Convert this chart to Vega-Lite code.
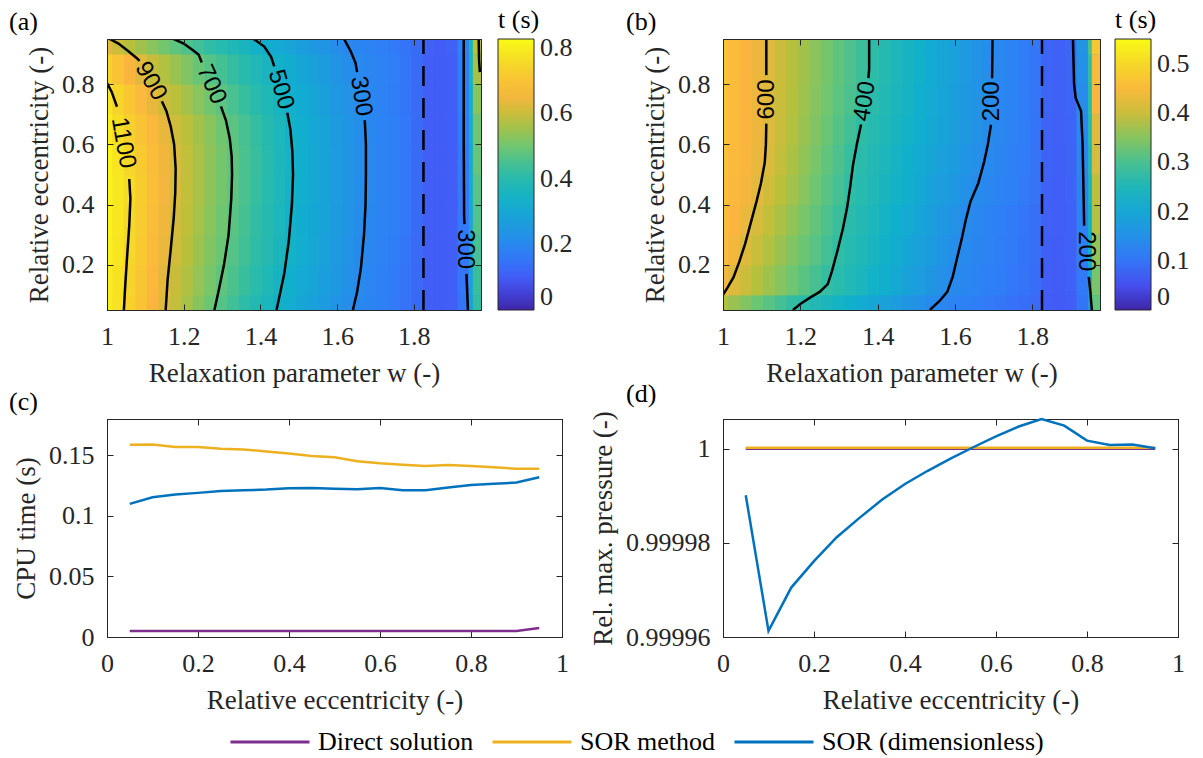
{
"$schema": "https://vega.github.io/schema/vega-lite/v6.json",
"padding": {"left": 8, "top": 6, "right": 8, "bottom": 8},
"background": "white",
"datasets": {
"heat": [
{"p":"a","e":0.05,"w":1,"t":0.8},{"p":"a","e":0.05,"w":1.03,"t":0.773},{"p":"a","e":0.05,"w":1.06,"t":0.739},{"p":"a","e":0.05,"w":1.09,"t":0.701},{"p":"a","e":0.05,"w":1.12,"t":0.662},{"p":"a","e":0.05,"w":1.15,"t":0.624},{"p":"a","e":0.05,"w":1.18,"t":0.591},{"p":"a","e":0.05,"w":1.21,"t":0.558},{"p":"a","e":0.05,"w":1.24,"t":0.526},{"p":"a","e":0.05,"w":1.27,"t":0.494},{"p":"a","e":0.05,"w":1.3,"t":0.466},{"p":"a","e":0.05,"w":1.33,"t":0.44},{"p":"a","e":0.05,"w":1.36,"t":0.415},{"p":"a","e":0.05,"w":1.39,"t":0.389},{"p":"a","e":0.05,"w":1.42,"t":0.364},{"p":"a","e":0.05,"w":1.45,"t":0.339},{"p":"a","e":0.05,"w":1.48,"t":0.319},{"p":"a","e":0.05,"w":1.51,"t":0.298},{"p":"a","e":0.05,"w":1.54,"t":0.277},{"p":"a","e":0.05,"w":1.57,"t":0.256},{"p":"a","e":0.05,"w":1.6,"t":0.235},{"p":"a","e":0.05,"w":1.63,"t":0.215},{"p":"a","e":0.05,"w":1.66,"t":0.2},{"p":"a","e":0.05,"w":1.69,"t":0.19},{"p":"a","e":0.05,"w":1.72,"t":0.175},{"p":"a","e":0.05,"w":1.75,"t":0.16},{"p":"a","e":0.05,"w":1.78,"t":0.145},{"p":"a","e":0.05,"w":1.81,"t":0.125},{"p":"a","e":0.05,"w":1.84,"t":0.105},{"p":"a","e":0.05,"w":1.87,"t":0.1},{"p":"a","e":0.05,"w":1.9,"t":0.105},{"p":"a","e":0.05,"w":1.93,"t":0.15},{"p":"a","e":0.05,"w":1.96,"t":0.28},{"p":"a","e":0.05,"w":1.97,"t":0.42},
{"p":"a","e":0.15,"w":1,"t":0.8},{"p":"a","e":0.15,"w":1.03,"t":0.775},{"p":"a","e":0.15,"w":1.06,"t":0.745},{"p":"a","e":0.15,"w":1.09,"t":0.707},{"p":"a","e":0.15,"w":1.12,"t":0.669},{"p":"a","e":0.15,"w":1.15,"t":0.63},{"p":"a","e":0.15,"w":1.18,"t":0.598},{"p":"a","e":0.15,"w":1.21,"t":0.569},{"p":"a","e":0.15,"w":1.24,"t":0.54},{"p":"a","e":0.15,"w":1.27,"t":0.51},{"p":"a","e":0.15,"w":1.3,"t":0.481},{"p":"a","e":0.15,"w":1.33,"t":0.456},{"p":"a","e":0.15,"w":1.36,"t":0.43},{"p":"a","e":0.15,"w":1.39,"t":0.404},{"p":"a","e":0.15,"w":1.42,"t":0.378},{"p":"a","e":0.15,"w":1.45,"t":0.353},{"p":"a","e":0.15,"w":1.48,"t":0.33},{"p":"a","e":0.15,"w":1.51,"t":0.309},{"p":"a","e":0.15,"w":1.54,"t":0.289},{"p":"a","e":0.15,"w":1.57,"t":0.268},{"p":"a","e":0.15,"w":1.6,"t":0.247},{"p":"a","e":0.15,"w":1.63,"t":0.226},{"p":"a","e":0.15,"w":1.66,"t":0.205},{"p":"a","e":0.15,"w":1.69,"t":0.192},{"p":"a","e":0.15,"w":1.72,"t":0.177},{"p":"a","e":0.15,"w":1.75,"t":0.162},{"p":"a","e":0.15,"w":1.78,"t":0.147},{"p":"a","e":0.15,"w":1.81,"t":0.127},{"p":"a","e":0.15,"w":1.84,"t":0.105},{"p":"a","e":0.15,"w":1.87,"t":0.1},{"p":"a","e":0.15,"w":1.9,"t":0.105},{"p":"a","e":0.15,"w":1.93,"t":0.152},{"p":"a","e":0.15,"w":1.96,"t":0.285},{"p":"a","e":0.15,"w":1.97,"t":0.43},
{"p":"a","e":0.25,"w":1,"t":0.805},{"p":"a","e":0.25,"w":1.03,"t":0.78},{"p":"a","e":0.25,"w":1.06,"t":0.753},{"p":"a","e":0.25,"w":1.09,"t":0.715},{"p":"a","e":0.25,"w":1.12,"t":0.678},{"p":"a","e":0.25,"w":1.15,"t":0.64},{"p":"a","e":0.25,"w":1.18,"t":0.607},{"p":"a","e":0.25,"w":1.21,"t":0.578},{"p":"a","e":0.25,"w":1.24,"t":0.55},{"p":"a","e":0.25,"w":1.27,"t":0.521},{"p":"a","e":0.25,"w":1.3,"t":0.493},{"p":"a","e":0.25,"w":1.33,"t":0.466},{"p":"a","e":0.25,"w":1.36,"t":0.441},{"p":"a","e":0.25,"w":1.39,"t":0.417},{"p":"a","e":0.25,"w":1.42,"t":0.392},{"p":"a","e":0.25,"w":1.45,"t":0.367},{"p":"a","e":0.25,"w":1.48,"t":0.342},{"p":"a","e":0.25,"w":1.51,"t":0.32},{"p":"a","e":0.25,"w":1.54,"t":0.299},{"p":"a","e":0.25,"w":1.57,"t":0.277},{"p":"a","e":0.25,"w":1.6,"t":0.255},{"p":"a","e":0.25,"w":1.63,"t":0.234},{"p":"a","e":0.25,"w":1.66,"t":0.212},{"p":"a","e":0.25,"w":1.69,"t":0.196},{"p":"a","e":0.25,"w":1.72,"t":0.181},{"p":"a","e":0.25,"w":1.75,"t":0.166},{"p":"a","e":0.25,"w":1.78,"t":0.151},{"p":"a","e":0.25,"w":1.81,"t":0.128},{"p":"a","e":0.25,"w":1.84,"t":0.105},{"p":"a","e":0.25,"w":1.87,"t":0.1},{"p":"a","e":0.25,"w":1.9,"t":0.105},{"p":"a","e":0.25,"w":1.93,"t":0.155},{"p":"a","e":0.25,"w":1.96,"t":0.29},{"p":"a","e":0.25,"w":1.97,"t":0.45},
{"p":"a","e":0.35,"w":1,"t":0.81},{"p":"a","e":0.35,"w":1.03,"t":0.783},{"p":"a","e":0.35,"w":1.06,"t":0.754},{"p":"a","e":0.35,"w":1.09,"t":0.719},{"p":"a","e":0.35,"w":1.12,"t":0.684},{"p":"a","e":0.35,"w":1.15,"t":0.648},{"p":"a","e":0.35,"w":1.18,"t":0.614},{"p":"a","e":0.35,"w":1.21,"t":0.586},{"p":"a","e":0.35,"w":1.24,"t":0.557},{"p":"a","e":0.35,"w":1.27,"t":0.528},{"p":"a","e":0.35,"w":1.3,"t":0.499},{"p":"a","e":0.35,"w":1.33,"t":0.472},{"p":"a","e":0.35,"w":1.36,"t":0.446},{"p":"a","e":0.35,"w":1.39,"t":0.42},{"p":"a","e":0.35,"w":1.42,"t":0.395},{"p":"a","e":0.35,"w":1.45,"t":0.369},{"p":"a","e":0.35,"w":1.48,"t":0.344},{"p":"a","e":0.35,"w":1.51,"t":0.322},{"p":"a","e":0.35,"w":1.54,"t":0.301},{"p":"a","e":0.35,"w":1.57,"t":0.28},{"p":"a","e":0.35,"w":1.6,"t":0.258},{"p":"a","e":0.35,"w":1.63,"t":0.237},{"p":"a","e":0.35,"w":1.66,"t":0.215},{"p":"a","e":0.35,"w":1.69,"t":0.2},{"p":"a","e":0.35,"w":1.72,"t":0.185},{"p":"a","e":0.35,"w":1.75,"t":0.17},{"p":"a","e":0.35,"w":1.78,"t":0.155},{"p":"a","e":0.35,"w":1.81,"t":0.13},{"p":"a","e":0.35,"w":1.84,"t":0.105},{"p":"a","e":0.35,"w":1.87,"t":0.1},{"p":"a","e":0.35,"w":1.9,"t":0.105},{"p":"a","e":0.35,"w":1.93,"t":0.16},{"p":"a","e":0.35,"w":1.96,"t":0.3},{"p":"a","e":0.35,"w":1.97,"t":0.46},
{"p":"a","e":0.45,"w":1,"t":0.81},{"p":"a","e":0.45,"w":1.03,"t":0.785},{"p":"a","e":0.45,"w":1.06,"t":0.76},{"p":"a","e":0.45,"w":1.09,"t":0.724},{"p":"a","e":0.45,"w":1.12,"t":0.689},{"p":"a","e":0.45,"w":1.15,"t":0.653},{"p":"a","e":0.45,"w":1.18,"t":0.618},{"p":"a","e":0.45,"w":1.21,"t":0.59},{"p":"a","e":0.45,"w":1.24,"t":0.562},{"p":"a","e":0.45,"w":1.27,"t":0.534},{"p":"a","e":0.45,"w":1.3,"t":0.506},{"p":"a","e":0.45,"w":1.33,"t":0.478},{"p":"a","e":0.45,"w":1.36,"t":0.452},{"p":"a","e":0.45,"w":1.39,"t":0.426},{"p":"a","e":0.45,"w":1.42,"t":0.4},{"p":"a","e":0.45,"w":1.45,"t":0.374},{"p":"a","e":0.45,"w":1.48,"t":0.347},{"p":"a","e":0.45,"w":1.51,"t":0.325},{"p":"a","e":0.45,"w":1.54,"t":0.304},{"p":"a","e":0.45,"w":1.57,"t":0.282},{"p":"a","e":0.45,"w":1.6,"t":0.261},{"p":"a","e":0.45,"w":1.63,"t":0.239},{"p":"a","e":0.45,"w":1.66,"t":0.217},{"p":"a","e":0.45,"w":1.69,"t":0.201},{"p":"a","e":0.45,"w":1.72,"t":0.186},{"p":"a","e":0.45,"w":1.75,"t":0.171},{"p":"a","e":0.45,"w":1.78,"t":0.156},{"p":"a","e":0.45,"w":1.81,"t":0.13},{"p":"a","e":0.45,"w":1.84,"t":0.105},{"p":"a","e":0.45,"w":1.87,"t":0.1},{"p":"a","e":0.45,"w":1.9,"t":0.105},{"p":"a","e":0.45,"w":1.93,"t":0.16},{"p":"a","e":0.45,"w":1.96,"t":0.31},{"p":"a","e":0.45,"w":1.97,"t":0.47},
{"p":"a","e":0.55,"w":1,"t":0.81},{"p":"a","e":0.55,"w":1.03,"t":0.78},{"p":"a","e":0.55,"w":1.06,"t":0.749},{"p":"a","e":0.55,"w":1.09,"t":0.716},{"p":"a","e":0.55,"w":1.12,"t":0.683},{"p":"a","e":0.55,"w":1.15,"t":0.651},{"p":"a","e":0.55,"w":1.18,"t":0.618},{"p":"a","e":0.55,"w":1.21,"t":0.59},{"p":"a","e":0.55,"w":1.24,"t":0.562},{"p":"a","e":0.55,"w":1.27,"t":0.534},{"p":"a","e":0.55,"w":1.3,"t":0.506},{"p":"a","e":0.55,"w":1.33,"t":0.479},{"p":"a","e":0.55,"w":1.36,"t":0.453},{"p":"a","e":0.55,"w":1.39,"t":0.427},{"p":"a","e":0.55,"w":1.42,"t":0.401},{"p":"a","e":0.55,"w":1.45,"t":0.375},{"p":"a","e":0.55,"w":1.48,"t":0.348},{"p":"a","e":0.55,"w":1.51,"t":0.326},{"p":"a","e":0.55,"w":1.54,"t":0.304},{"p":"a","e":0.55,"w":1.57,"t":0.283},{"p":"a","e":0.55,"w":1.6,"t":0.261},{"p":"a","e":0.55,"w":1.63,"t":0.24},{"p":"a","e":0.55,"w":1.66,"t":0.218},{"p":"a","e":0.55,"w":1.69,"t":0.201},{"p":"a","e":0.55,"w":1.72,"t":0.186},{"p":"a","e":0.55,"w":1.75,"t":0.171},{"p":"a","e":0.55,"w":1.78,"t":0.156},{"p":"a","e":0.55,"w":1.81,"t":0.13},{"p":"a","e":0.55,"w":1.84,"t":0.105},{"p":"a","e":0.55,"w":1.87,"t":0.1},{"p":"a","e":0.55,"w":1.9,"t":0.105},{"p":"a","e":0.55,"w":1.93,"t":0.162},{"p":"a","e":0.55,"w":1.96,"t":0.315},{"p":"a","e":0.55,"w":1.97,"t":0.49},
{"p":"a","e":0.65,"w":1,"t":0.8},{"p":"a","e":0.65,"w":1.03,"t":0.766},{"p":"a","e":0.65,"w":1.06,"t":0.733},{"p":"a","e":0.65,"w":1.09,"t":0.702},{"p":"a","e":0.65,"w":1.12,"t":0.67},{"p":"a","e":0.65,"w":1.15,"t":0.638},{"p":"a","e":0.65,"w":1.18,"t":0.608},{"p":"a","e":0.65,"w":1.21,"t":0.582},{"p":"a","e":0.65,"w":1.24,"t":0.555},{"p":"a","e":0.65,"w":1.27,"t":0.528},{"p":"a","e":0.65,"w":1.3,"t":0.501},{"p":"a","e":0.65,"w":1.33,"t":0.474},{"p":"a","e":0.65,"w":1.36,"t":0.448},{"p":"a","e":0.65,"w":1.39,"t":0.422},{"p":"a","e":0.65,"w":1.42,"t":0.396},{"p":"a","e":0.65,"w":1.45,"t":0.37},{"p":"a","e":0.65,"w":1.48,"t":0.344},{"p":"a","e":0.65,"w":1.51,"t":0.323},{"p":"a","e":0.65,"w":1.54,"t":0.302},{"p":"a","e":0.65,"w":1.57,"t":0.281},{"p":"a","e":0.65,"w":1.6,"t":0.259},{"p":"a","e":0.65,"w":1.63,"t":0.238},{"p":"a","e":0.65,"w":1.66,"t":0.217},{"p":"a","e":0.65,"w":1.69,"t":0.2},{"p":"a","e":0.65,"w":1.72,"t":0.185},{"p":"a","e":0.65,"w":1.75,"t":0.17},{"p":"a","e":0.65,"w":1.78,"t":0.155},{"p":"a","e":0.65,"w":1.81,"t":0.13},{"p":"a","e":0.65,"w":1.84,"t":0.105},{"p":"a","e":0.65,"w":1.87,"t":0.1},{"p":"a","e":0.65,"w":1.9,"t":0.105},{"p":"a","e":0.65,"w":1.93,"t":0.165},{"p":"a","e":0.65,"w":1.96,"t":0.32},{"p":"a","e":0.65,"w":1.97,"t":0.5},
{"p":"a","e":0.75,"w":1,"t":0.78},{"p":"a","e":0.75,"w":1.03,"t":0.746},{"p":"a","e":0.75,"w":1.06,"t":0.71},{"p":"a","e":0.75,"w":1.09,"t":0.674},{"p":"a","e":0.75,"w":1.12,"t":0.638},{"p":"a","e":0.75,"w":1.15,"t":0.607},{"p":"a","e":0.75,"w":1.18,"t":0.58},{"p":"a","e":0.75,"w":1.21,"t":0.554},{"p":"a","e":0.75,"w":1.24,"t":0.527},{"p":"a","e":0.75,"w":1.27,"t":0.501},{"p":"a","e":0.75,"w":1.3,"t":0.475},{"p":"a","e":0.75,"w":1.33,"t":0.451},{"p":"a","e":0.75,"w":1.36,"t":0.427},{"p":"a","e":0.75,"w":1.39,"t":0.403},{"p":"a","e":0.75,"w":1.42,"t":0.379},{"p":"a","e":0.75,"w":1.45,"t":0.355},{"p":"a","e":0.75,"w":1.48,"t":0.333},{"p":"a","e":0.75,"w":1.51,"t":0.313},{"p":"a","e":0.75,"w":1.54,"t":0.292},{"p":"a","e":0.75,"w":1.57,"t":0.272},{"p":"a","e":0.75,"w":1.6,"t":0.251},{"p":"a","e":0.75,"w":1.63,"t":0.23},{"p":"a","e":0.75,"w":1.66,"t":0.21},{"p":"a","e":0.75,"w":1.69,"t":0.196},{"p":"a","e":0.75,"w":1.72,"t":0.182},{"p":"a","e":0.75,"w":1.75,"t":0.168},{"p":"a","e":0.75,"w":1.78,"t":0.154},{"p":"a","e":0.75,"w":1.81,"t":0.13},{"p":"a","e":0.75,"w":1.84,"t":0.105},{"p":"a","e":0.75,"w":1.87,"t":0.1},{"p":"a","e":0.75,"w":1.9,"t":0.105},{"p":"a","e":0.75,"w":1.93,"t":0.17},{"p":"a","e":0.75,"w":1.96,"t":0.335},{"p":"a","e":0.75,"w":1.97,"t":0.53},
{"p":"a","e":0.85,"w":1,"t":0.735},{"p":"a","e":0.85,"w":1.03,"t":0.699},{"p":"a","e":0.85,"w":1.06,"t":0.662},{"p":"a","e":0.85,"w":1.09,"t":0.626},{"p":"a","e":0.85,"w":1.12,"t":0.598},{"p":"a","e":0.85,"w":1.15,"t":0.571},{"p":"a","e":0.85,"w":1.18,"t":0.545},{"p":"a","e":0.85,"w":1.21,"t":0.518},{"p":"a","e":0.85,"w":1.24,"t":0.492},{"p":"a","e":0.85,"w":1.27,"t":0.468},{"p":"a","e":0.85,"w":1.3,"t":0.446},{"p":"a","e":0.85,"w":1.33,"t":0.424},{"p":"a","e":0.85,"w":1.36,"t":0.402},{"p":"a","e":0.85,"w":1.39,"t":0.38},{"p":"a","e":0.85,"w":1.42,"t":0.358},{"p":"a","e":0.85,"w":1.45,"t":0.337},{"p":"a","e":0.85,"w":1.48,"t":0.318},{"p":"a","e":0.85,"w":1.51,"t":0.298},{"p":"a","e":0.85,"w":1.54,"t":0.278},{"p":"a","e":0.85,"w":1.57,"t":0.259},{"p":"a","e":0.85,"w":1.6,"t":0.239},{"p":"a","e":0.85,"w":1.63,"t":0.219},{"p":"a","e":0.85,"w":1.66,"t":0.202},{"p":"a","e":0.85,"w":1.69,"t":0.192},{"p":"a","e":0.85,"w":1.72,"t":0.18},{"p":"a","e":0.85,"w":1.75,"t":0.167},{"p":"a","e":0.85,"w":1.78,"t":0.153},{"p":"a","e":0.85,"w":1.81,"t":0.13},{"p":"a","e":0.85,"w":1.84,"t":0.105},{"p":"a","e":0.85,"w":1.87,"t":0.1},{"p":"a","e":0.85,"w":1.9,"t":0.105},{"p":"a","e":0.85,"w":1.93,"t":0.175},{"p":"a","e":0.85,"w":1.96,"t":0.35},{"p":"a","e":0.85,"w":1.97,"t":0.56},
{"p":"a","e":0.95,"w":1,"t":0.63},{"p":"a","e":0.95,"w":1.03,"t":0.601},{"p":"a","e":0.95,"w":1.06,"t":0.577},{"p":"a","e":0.95,"w":1.09,"t":0.552},{"p":"a","e":0.95,"w":1.12,"t":0.527},{"p":"a","e":0.95,"w":1.15,"t":0.503},{"p":"a","e":0.95,"w":1.18,"t":0.479},{"p":"a","e":0.95,"w":1.21,"t":0.459},{"p":"a","e":0.95,"w":1.24,"t":0.439},{"p":"a","e":0.95,"w":1.27,"t":0.419},{"p":"a","e":0.95,"w":1.3,"t":0.399},{"p":"a","e":0.95,"w":1.33,"t":0.379},{"p":"a","e":0.95,"w":1.36,"t":0.36},{"p":"a","e":0.95,"w":1.39,"t":0.34},{"p":"a","e":0.95,"w":1.42,"t":0.323},{"p":"a","e":0.95,"w":1.45,"t":0.305},{"p":"a","e":0.95,"w":1.48,"t":0.288},{"p":"a","e":0.95,"w":1.51,"t":0.27},{"p":"a","e":0.95,"w":1.54,"t":0.253},{"p":"a","e":0.95,"w":1.57,"t":0.235},{"p":"a","e":0.95,"w":1.6,"t":0.218},{"p":"a","e":0.95,"w":1.63,"t":0.2},{"p":"a","e":0.95,"w":1.66,"t":0.19},{"p":"a","e":0.95,"w":1.69,"t":0.18},{"p":"a","e":0.95,"w":1.72,"t":0.17},{"p":"a","e":0.95,"w":1.75,"t":0.16},{"p":"a","e":0.95,"w":1.78,"t":0.15},{"p":"a","e":0.95,"w":1.81,"t":0.13},{"p":"a","e":0.95,"w":1.84,"t":0.108},{"p":"a","e":0.95,"w":1.87,"t":0.102},{"p":"a","e":0.95,"w":1.9,"t":0.11},{"p":"a","e":0.95,"w":1.93,"t":0.18},{"p":"a","e":0.95,"w":1.96,"t":0.36},{"p":"a","e":0.95,"w":1.97,"t":0.58},
{"p":"b","e":0.05,"w":1,"t":0.38},{"p":"b","e":0.05,"w":1.03,"t":0.363},{"p":"b","e":0.05,"w":1.06,"t":0.347},{"p":"b","e":0.05,"w":1.09,"t":0.33},{"p":"b","e":0.05,"w":1.12,"t":0.314},{"p":"b","e":0.05,"w":1.15,"t":0.297},{"p":"b","e":0.05,"w":1.18,"t":0.281},{"p":"b","e":0.05,"w":1.21,"t":0.269},{"p":"b","e":0.05,"w":1.24,"t":0.257},{"p":"b","e":0.05,"w":1.27,"t":0.245},{"p":"b","e":0.05,"w":1.3,"t":0.233},{"p":"b","e":0.05,"w":1.33,"t":0.221},{"p":"b","e":0.05,"w":1.36,"t":0.209},{"p":"b","e":0.05,"w":1.39,"t":0.197},{"p":"b","e":0.05,"w":1.42,"t":0.185},{"p":"b","e":0.05,"w":1.45,"t":0.174},{"p":"b","e":0.05,"w":1.48,"t":0.162},{"p":"b","e":0.05,"w":1.51,"t":0.15},{"p":"b","e":0.05,"w":1.54,"t":0.138},{"p":"b","e":0.05,"w":1.57,"t":0.13},{"p":"b","e":0.05,"w":1.6,"t":0.123},{"p":"b","e":0.05,"w":1.63,"t":0.117},{"p":"b","e":0.05,"w":1.66,"t":0.111},{"p":"b","e":0.05,"w":1.69,"t":0.106},{"p":"b","e":0.05,"w":1.72,"t":0.101},{"p":"b","e":0.05,"w":1.75,"t":0.096},{"p":"b","e":0.05,"w":1.78,"t":0.091},{"p":"b","e":0.05,"w":1.81,"t":0.085},{"p":"b","e":0.05,"w":1.84,"t":0.068},{"p":"b","e":0.05,"w":1.87,"t":0.066},{"p":"b","e":0.05,"w":1.9,"t":0.07},{"p":"b","e":0.05,"w":1.93,"t":0.1},{"p":"b","e":0.05,"w":1.96,"t":0.17},{"p":"b","e":0.05,"w":1.97,"t":0.32},
{"p":"b","e":0.15,"w":1,"t":0.435},{"p":"b","e":0.15,"w":1.03,"t":0.417},{"p":"b","e":0.15,"w":1.06,"t":0.4},{"p":"b","e":0.15,"w":1.09,"t":0.383},{"p":"b","e":0.15,"w":1.12,"t":0.366},{"p":"b","e":0.15,"w":1.15,"t":0.349},{"p":"b","e":0.15,"w":1.18,"t":0.333},{"p":"b","e":0.15,"w":1.21,"t":0.316},{"p":"b","e":0.15,"w":1.24,"t":0.299},{"p":"b","e":0.15,"w":1.27,"t":0.282},{"p":"b","e":0.15,"w":1.3,"t":0.269},{"p":"b","e":0.15,"w":1.33,"t":0.256},{"p":"b","e":0.15,"w":1.36,"t":0.242},{"p":"b","e":0.15,"w":1.39,"t":0.229},{"p":"b","e":0.15,"w":1.42,"t":0.215},{"p":"b","e":0.15,"w":1.45,"t":0.202},{"p":"b","e":0.15,"w":1.48,"t":0.189},{"p":"b","e":0.15,"w":1.51,"t":0.176},{"p":"b","e":0.15,"w":1.54,"t":0.162},{"p":"b","e":0.15,"w":1.57,"t":0.149},{"p":"b","e":0.15,"w":1.6,"t":0.137},{"p":"b","e":0.15,"w":1.63,"t":0.13},{"p":"b","e":0.15,"w":1.66,"t":0.123},{"p":"b","e":0.15,"w":1.69,"t":0.116},{"p":"b","e":0.15,"w":1.72,"t":0.11},{"p":"b","e":0.15,"w":1.75,"t":0.104},{"p":"b","e":0.15,"w":1.78,"t":0.098},{"p":"b","e":0.15,"w":1.81,"t":0.09},{"p":"b","e":0.15,"w":1.84,"t":0.07},{"p":"b","e":0.15,"w":1.87,"t":0.067},{"p":"b","e":0.15,"w":1.9,"t":0.072},{"p":"b","e":0.15,"w":1.93,"t":0.105},{"p":"b","e":0.15,"w":1.96,"t":0.19},{"p":"b","e":0.15,"w":1.97,"t":0.34},
{"p":"b","e":0.25,"w":1,"t":0.45},{"p":"b","e":0.25,"w":1.03,"t":0.433},{"p":"b","e":0.25,"w":1.06,"t":0.415},{"p":"b","e":0.25,"w":1.09,"t":0.398},{"p":"b","e":0.25,"w":1.12,"t":0.381},{"p":"b","e":0.25,"w":1.15,"t":0.364},{"p":"b","e":0.25,"w":1.18,"t":0.347},{"p":"b","e":0.25,"w":1.21,"t":0.33},{"p":"b","e":0.25,"w":1.24,"t":0.313},{"p":"b","e":0.25,"w":1.27,"t":0.295},{"p":"b","e":0.25,"w":1.3,"t":0.279},{"p":"b","e":0.25,"w":1.33,"t":0.265},{"p":"b","e":0.25,"w":1.36,"t":0.252},{"p":"b","e":0.25,"w":1.39,"t":0.239},{"p":"b","e":0.25,"w":1.42,"t":0.225},{"p":"b","e":0.25,"w":1.45,"t":0.212},{"p":"b","e":0.25,"w":1.48,"t":0.198},{"p":"b","e":0.25,"w":1.51,"t":0.185},{"p":"b","e":0.25,"w":1.54,"t":0.172},{"p":"b","e":0.25,"w":1.57,"t":0.158},{"p":"b","e":0.25,"w":1.6,"t":0.145},{"p":"b","e":0.25,"w":1.63,"t":0.135},{"p":"b","e":0.25,"w":1.66,"t":0.127},{"p":"b","e":0.25,"w":1.69,"t":0.12},{"p":"b","e":0.25,"w":1.72,"t":0.113},{"p":"b","e":0.25,"w":1.75,"t":0.107},{"p":"b","e":0.25,"w":1.78,"t":0.1},{"p":"b","e":0.25,"w":1.81,"t":0.092},{"p":"b","e":0.25,"w":1.84,"t":0.071},{"p":"b","e":0.25,"w":1.87,"t":0.068},{"p":"b","e":0.25,"w":1.9,"t":0.073},{"p":"b","e":0.25,"w":1.93,"t":0.115},{"p":"b","e":0.25,"w":1.96,"t":0.21},{"p":"b","e":0.25,"w":1.97,"t":0.36},
{"p":"b","e":0.35,"w":1,"t":0.455},{"p":"b","e":0.35,"w":1.03,"t":0.441},{"p":"b","e":0.35,"w":1.06,"t":0.427},{"p":"b","e":0.35,"w":1.09,"t":0.411},{"p":"b","e":0.35,"w":1.12,"t":0.393},{"p":"b","e":0.35,"w":1.15,"t":0.375},{"p":"b","e":0.35,"w":1.18,"t":0.358},{"p":"b","e":0.35,"w":1.21,"t":0.34},{"p":"b","e":0.35,"w":1.24,"t":0.322},{"p":"b","e":0.35,"w":1.27,"t":0.305},{"p":"b","e":0.35,"w":1.3,"t":0.287},{"p":"b","e":0.35,"w":1.33,"t":0.272},{"p":"b","e":0.35,"w":1.36,"t":0.259},{"p":"b","e":0.35,"w":1.39,"t":0.246},{"p":"b","e":0.35,"w":1.42,"t":0.232},{"p":"b","e":0.35,"w":1.45,"t":0.219},{"p":"b","e":0.35,"w":1.48,"t":0.206},{"p":"b","e":0.35,"w":1.51,"t":0.193},{"p":"b","e":0.35,"w":1.54,"t":0.18},{"p":"b","e":0.35,"w":1.57,"t":0.166},{"p":"b","e":0.35,"w":1.6,"t":0.153},{"p":"b","e":0.35,"w":1.63,"t":0.14},{"p":"b","e":0.35,"w":1.66,"t":0.13},{"p":"b","e":0.35,"w":1.69,"t":0.122},{"p":"b","e":0.35,"w":1.72,"t":0.115},{"p":"b","e":0.35,"w":1.75,"t":0.108},{"p":"b","e":0.35,"w":1.78,"t":0.101},{"p":"b","e":0.35,"w":1.81,"t":0.093},{"p":"b","e":0.35,"w":1.84,"t":0.072},{"p":"b","e":0.35,"w":1.87,"t":0.069},{"p":"b","e":0.35,"w":1.9,"t":0.074},{"p":"b","e":0.35,"w":1.93,"t":0.12},{"p":"b","e":0.35,"w":1.96,"t":0.22},{"p":"b","e":0.35,"w":1.97,"t":0.38},
{"p":"b","e":0.45,"w":1,"t":0.46},{"p":"b","e":0.45,"w":1.03,"t":0.447},{"p":"b","e":0.45,"w":1.06,"t":0.435},{"p":"b","e":0.45,"w":1.09,"t":0.422},{"p":"b","e":0.45,"w":1.12,"t":0.405},{"p":"b","e":0.45,"w":1.15,"t":0.387},{"p":"b","e":0.45,"w":1.18,"t":0.369},{"p":"b","e":0.45,"w":1.21,"t":0.351},{"p":"b","e":0.45,"w":1.24,"t":0.332},{"p":"b","e":0.45,"w":1.27,"t":0.314},{"p":"b","e":0.45,"w":1.3,"t":0.296},{"p":"b","e":0.45,"w":1.33,"t":0.279},{"p":"b","e":0.45,"w":1.36,"t":0.266},{"p":"b","e":0.45,"w":1.39,"t":0.253},{"p":"b","e":0.45,"w":1.42,"t":0.24},{"p":"b","e":0.45,"w":1.45,"t":0.228},{"p":"b","e":0.45,"w":1.48,"t":0.215},{"p":"b","e":0.45,"w":1.51,"t":0.202},{"p":"b","e":0.45,"w":1.54,"t":0.189},{"p":"b","e":0.45,"w":1.57,"t":0.177},{"p":"b","e":0.45,"w":1.6,"t":0.164},{"p":"b","e":0.45,"w":1.63,"t":0.151},{"p":"b","e":0.45,"w":1.66,"t":0.139},{"p":"b","e":0.45,"w":1.69,"t":0.13},{"p":"b","e":0.45,"w":1.72,"t":0.122},{"p":"b","e":0.45,"w":1.75,"t":0.114},{"p":"b","e":0.45,"w":1.78,"t":0.106},{"p":"b","e":0.45,"w":1.81,"t":0.097},{"p":"b","e":0.45,"w":1.84,"t":0.074},{"p":"b","e":0.45,"w":1.87,"t":0.07},{"p":"b","e":0.45,"w":1.9,"t":0.076},{"p":"b","e":0.45,"w":1.93,"t":0.125},{"p":"b","e":0.45,"w":1.96,"t":0.235},{"p":"b","e":0.45,"w":1.97,"t":0.39},
{"p":"b","e":0.55,"w":1,"t":0.462},{"p":"b","e":0.55,"w":1.03,"t":0.45},{"p":"b","e":0.55,"w":1.06,"t":0.439},{"p":"b","e":0.55,"w":1.09,"t":0.427},{"p":"b","e":0.55,"w":1.12,"t":0.413},{"p":"b","e":0.55,"w":1.15,"t":0.394},{"p":"b","e":0.55,"w":1.18,"t":0.376},{"p":"b","e":0.55,"w":1.21,"t":0.358},{"p":"b","e":0.55,"w":1.24,"t":0.339},{"p":"b","e":0.55,"w":1.27,"t":0.321},{"p":"b","e":0.55,"w":1.3,"t":0.303},{"p":"b","e":0.55,"w":1.33,"t":0.284},{"p":"b","e":0.55,"w":1.36,"t":0.271},{"p":"b","e":0.55,"w":1.39,"t":0.258},{"p":"b","e":0.55,"w":1.42,"t":0.246},{"p":"b","e":0.55,"w":1.45,"t":0.233},{"p":"b","e":0.55,"w":1.48,"t":0.221},{"p":"b","e":0.55,"w":1.51,"t":0.209},{"p":"b","e":0.55,"w":1.54,"t":0.196},{"p":"b","e":0.55,"w":1.57,"t":0.184},{"p":"b","e":0.55,"w":1.6,"t":0.172},{"p":"b","e":0.55,"w":1.63,"t":0.159},{"p":"b","e":0.55,"w":1.66,"t":0.147},{"p":"b","e":0.55,"w":1.69,"t":0.136},{"p":"b","e":0.55,"w":1.72,"t":0.127},{"p":"b","e":0.55,"w":1.75,"t":0.118},{"p":"b","e":0.55,"w":1.78,"t":0.109},{"p":"b","e":0.55,"w":1.81,"t":0.099},{"p":"b","e":0.55,"w":1.84,"t":0.075},{"p":"b","e":0.55,"w":1.87,"t":0.071},{"p":"b","e":0.55,"w":1.9,"t":0.077},{"p":"b","e":0.55,"w":1.93,"t":0.128},{"p":"b","e":0.55,"w":1.96,"t":0.25},{"p":"b","e":0.55,"w":1.97,"t":0.41},
{"p":"b","e":0.65,"w":1,"t":0.465},{"p":"b","e":0.65,"w":1.03,"t":0.453},{"p":"b","e":0.65,"w":1.06,"t":0.441},{"p":"b","e":0.65,"w":1.09,"t":0.429},{"p":"b","e":0.65,"w":1.12,"t":0.415},{"p":"b","e":0.65,"w":1.15,"t":0.398},{"p":"b","e":0.65,"w":1.18,"t":0.381},{"p":"b","e":0.65,"w":1.21,"t":0.363},{"p":"b","e":0.65,"w":1.24,"t":0.346},{"p":"b","e":0.65,"w":1.27,"t":0.329},{"p":"b","e":0.65,"w":1.3,"t":0.311},{"p":"b","e":0.65,"w":1.33,"t":0.294},{"p":"b","e":0.65,"w":1.36,"t":0.278},{"p":"b","e":0.65,"w":1.39,"t":0.265},{"p":"b","e":0.65,"w":1.42,"t":0.253},{"p":"b","e":0.65,"w":1.45,"t":0.24},{"p":"b","e":0.65,"w":1.48,"t":0.228},{"p":"b","e":0.65,"w":1.51,"t":0.215},{"p":"b","e":0.65,"w":1.54,"t":0.203},{"p":"b","e":0.65,"w":1.57,"t":0.19},{"p":"b","e":0.65,"w":1.6,"t":0.178},{"p":"b","e":0.65,"w":1.63,"t":0.166},{"p":"b","e":0.65,"w":1.66,"t":0.153},{"p":"b","e":0.65,"w":1.69,"t":0.141},{"p":"b","e":0.65,"w":1.72,"t":0.131},{"p":"b","e":0.65,"w":1.75,"t":0.121},{"p":"b","e":0.65,"w":1.78,"t":0.111},{"p":"b","e":0.65,"w":1.81,"t":0.1},{"p":"b","e":0.65,"w":1.84,"t":0.076},{"p":"b","e":0.65,"w":1.87,"t":0.072},{"p":"b","e":0.65,"w":1.9,"t":0.078},{"p":"b","e":0.65,"w":1.93,"t":0.132},{"p":"b","e":0.65,"w":1.96,"t":0.26},{"p":"b","e":0.65,"w":1.97,"t":0.42},
{"p":"b","e":0.75,"w":1,"t":0.465},{"p":"b","e":0.75,"w":1.03,"t":0.453},{"p":"b","e":0.75,"w":1.06,"t":0.441},{"p":"b","e":0.75,"w":1.09,"t":0.429},{"p":"b","e":0.75,"w":1.12,"t":0.416},{"p":"b","e":0.75,"w":1.15,"t":0.399},{"p":"b","e":0.75,"w":1.18,"t":0.383},{"p":"b","e":0.75,"w":1.21,"t":0.366},{"p":"b","e":0.75,"w":1.24,"t":0.35},{"p":"b","e":0.75,"w":1.27,"t":0.334},{"p":"b","e":0.75,"w":1.3,"t":0.317},{"p":"b","e":0.75,"w":1.33,"t":0.301},{"p":"b","e":0.75,"w":1.36,"t":0.284},{"p":"b","e":0.75,"w":1.39,"t":0.271},{"p":"b","e":0.75,"w":1.42,"t":0.258},{"p":"b","e":0.75,"w":1.45,"t":0.245},{"p":"b","e":0.75,"w":1.48,"t":0.232},{"p":"b","e":0.75,"w":1.51,"t":0.219},{"p":"b","e":0.75,"w":1.54,"t":0.206},{"p":"b","e":0.75,"w":1.57,"t":0.194},{"p":"b","e":0.75,"w":1.6,"t":0.181},{"p":"b","e":0.75,"w":1.63,"t":0.168},{"p":"b","e":0.75,"w":1.66,"t":0.155},{"p":"b","e":0.75,"w":1.69,"t":0.142},{"p":"b","e":0.75,"w":1.72,"t":0.132},{"p":"b","e":0.75,"w":1.75,"t":0.122},{"p":"b","e":0.75,"w":1.78,"t":0.112},{"p":"b","e":0.75,"w":1.81,"t":0.101},{"p":"b","e":0.75,"w":1.84,"t":0.077},{"p":"b","e":0.75,"w":1.87,"t":0.073},{"p":"b","e":0.75,"w":1.9,"t":0.079},{"p":"b","e":0.75,"w":1.93,"t":0.14},{"p":"b","e":0.75,"w":1.96,"t":0.27},{"p":"b","e":0.75,"w":1.97,"t":0.44},
{"p":"b","e":0.85,"w":1,"t":0.465},{"p":"b","e":0.85,"w":1.03,"t":0.453},{"p":"b","e":0.85,"w":1.06,"t":0.441},{"p":"b","e":0.85,"w":1.09,"t":0.429},{"p":"b","e":0.85,"w":1.12,"t":0.416},{"p":"b","e":0.85,"w":1.15,"t":0.4},{"p":"b","e":0.85,"w":1.18,"t":0.384},{"p":"b","e":0.85,"w":1.21,"t":0.368},{"p":"b","e":0.85,"w":1.24,"t":0.353},{"p":"b","e":0.85,"w":1.27,"t":0.337},{"p":"b","e":0.85,"w":1.3,"t":0.321},{"p":"b","e":0.85,"w":1.33,"t":0.305},{"p":"b","e":0.85,"w":1.36,"t":0.289},{"p":"b","e":0.85,"w":1.39,"t":0.275},{"p":"b","e":0.85,"w":1.42,"t":0.262},{"p":"b","e":0.85,"w":1.45,"t":0.248},{"p":"b","e":0.85,"w":1.48,"t":0.235},{"p":"b","e":0.85,"w":1.51,"t":0.222},{"p":"b","e":0.85,"w":1.54,"t":0.209},{"p":"b","e":0.85,"w":1.57,"t":0.196},{"p":"b","e":0.85,"w":1.6,"t":0.183},{"p":"b","e":0.85,"w":1.63,"t":0.169},{"p":"b","e":0.85,"w":1.66,"t":0.156},{"p":"b","e":0.85,"w":1.69,"t":0.143},{"p":"b","e":0.85,"w":1.72,"t":0.132},{"p":"b","e":0.85,"w":1.75,"t":0.122},{"p":"b","e":0.85,"w":1.78,"t":0.112},{"p":"b","e":0.85,"w":1.81,"t":0.101},{"p":"b","e":0.85,"w":1.84,"t":0.078},{"p":"b","e":0.85,"w":1.87,"t":0.074},{"p":"b","e":0.85,"w":1.9,"t":0.08},{"p":"b","e":0.85,"w":1.93,"t":0.15},{"p":"b","e":0.85,"w":1.96,"t":0.28},{"p":"b","e":0.85,"w":1.97,"t":0.45},
{"p":"b","e":0.95,"w":1,"t":0.465},{"p":"b","e":0.95,"w":1.03,"t":0.453},{"p":"b","e":0.95,"w":1.06,"t":0.441},{"p":"b","e":0.95,"w":1.09,"t":0.429},{"p":"b","e":0.95,"w":1.12,"t":0.416},{"p":"b","e":0.95,"w":1.15,"t":0.4},{"p":"b","e":0.95,"w":1.18,"t":0.384},{"p":"b","e":0.95,"w":1.21,"t":0.368},{"p":"b","e":0.95,"w":1.24,"t":0.353},{"p":"b","e":0.95,"w":1.27,"t":0.337},{"p":"b","e":0.95,"w":1.3,"t":0.321},{"p":"b","e":0.95,"w":1.33,"t":0.305},{"p":"b","e":0.95,"w":1.36,"t":0.289},{"p":"b","e":0.95,"w":1.39,"t":0.275},{"p":"b","e":0.95,"w":1.42,"t":0.262},{"p":"b","e":0.95,"w":1.45,"t":0.248},{"p":"b","e":0.95,"w":1.48,"t":0.235},{"p":"b","e":0.95,"w":1.51,"t":0.222},{"p":"b","e":0.95,"w":1.54,"t":0.209},{"p":"b","e":0.95,"w":1.57,"t":0.196},{"p":"b","e":0.95,"w":1.6,"t":0.183},{"p":"b","e":0.95,"w":1.63,"t":0.169},{"p":"b","e":0.95,"w":1.66,"t":0.156},{"p":"b","e":0.95,"w":1.69,"t":0.143},{"p":"b","e":0.95,"w":1.72,"t":0.132},{"p":"b","e":0.95,"w":1.75,"t":0.122},{"p":"b","e":0.95,"w":1.78,"t":0.112},{"p":"b","e":0.95,"w":1.81,"t":0.101},{"p":"b","e":0.95,"w":1.84,"t":0.078},{"p":"b","e":0.95,"w":1.87,"t":0.074},{"p":"b","e":0.95,"w":1.9,"t":0.08},{"p":"b","e":0.95,"w":1.93,"t":0.16},{"p":"b","e":0.95,"w":1.96,"t":0.3},{"p":"b","e":0.95,"w":1.97,"t":0.47}
],
"cont": [
{"p":"a","id":"a1100a","w":1.0,"e":0.804},{"p":"a","id":"a1100a","w":1.012,"e":0.775},{"p":"a","id":"a1100a","w":1.026,"e":0.725},
{"p":"a","id":"a1100b","w":1.058,"e":0.485},{"p":"a","id":"a1100b","w":1.061,"e":0.42},{"p":"a","id":"a1100b","w":1.058,"e":0.33},{"p":"a","id":"a1100b","w":1.052,"e":0.22},{"p":"a","id":"a1100b","w":1.047,"e":0.12},{"p":"a","id":"a1100b","w":1.044,"e":0.05},
{"p":"a","id":"a900a","w":1.007,"e":0.95},{"p":"a","id":"a900a","w":1.03,"e":0.935},{"p":"a","id":"a900a","w":1.055,"e":0.91},{"p":"a","id":"a900a","w":1.077,"e":0.887},{"p":"a","id":"a900a","w":1.085,"e":0.877},
{"p":"a","id":"a900b","w":1.143,"e":0.743},{"p":"a","id":"a900b","w":1.155,"e":0.71},{"p":"a","id":"a900b","w":1.166,"e":0.66},{"p":"a","id":"a900b","w":1.175,"e":0.6},{"p":"a","id":"a900b","w":1.179,"e":0.52},{"p":"a","id":"a900b","w":1.178,"e":0.44},{"p":"a","id":"a900b","w":1.174,"e":0.357},{"p":"a","id":"a900b","w":1.166,"e":0.25},{"p":"a","id":"a900b","w":1.158,"e":0.15},{"p":"a","id":"a900b","w":1.153,"e":0.05},
{"p":"a","id":"a700a","w":1.174,"e":0.95},{"p":"a","id":"a700a","w":1.2,"e":0.935},{"p":"a","id":"a700a","w":1.225,"e":0.912},{"p":"a","id":"a700a","w":1.239,"e":0.898},{"p":"a","id":"a700a","w":1.247,"e":0.872},
{"p":"a","id":"a700b","w":1.297,"e":0.726},{"p":"a","id":"a700b","w":1.31,"e":0.68},{"p":"a","id":"a700b","w":1.32,"e":0.62},{"p":"a","id":"a700b","w":1.325,"e":0.56},{"p":"a","id":"a700b","w":1.326,"e":0.5},{"p":"a","id":"a700b","w":1.324,"e":0.42},{"p":"a","id":"a700b","w":1.317,"e":0.3},{"p":"a","id":"a700b","w":1.305,"e":0.2},{"p":"a","id":"a700b","w":1.292,"e":0.12},{"p":"a","id":"a700b","w":1.28,"e":0.05},
{"p":"a","id":"a500a","w":1.382,"e":0.95},{"p":"a","id":"a500a","w":1.41,"e":0.925},{"p":"a","id":"a500a","w":1.428,"e":0.89},{"p":"a","id":"a500a","w":1.436,"e":0.859},
{"p":"a","id":"a500b","w":1.47,"e":0.705},{"p":"a","id":"a500b","w":1.478,"e":0.65},{"p":"a","id":"a500b","w":1.483,"e":0.58},{"p":"a","id":"a500b","w":1.485,"e":0.5},{"p":"a","id":"a500b","w":1.482,"e":0.4},{"p":"a","id":"a500b","w":1.474,"e":0.28},{"p":"a","id":"a500b","w":1.462,"e":0.17},{"p":"a","id":"a500b","w":1.442,"e":0.05},
{"p":"a","id":"a300a","w":1.618,"e":0.95},{"p":"a","id":"a300a","w":1.635,"e":0.91},{"p":"a","id":"a300a","w":1.648,"e":0.87},{"p":"a","id":"a300a","w":1.652,"e":0.84},
{"p":"a","id":"a300b","w":1.672,"e":0.68},{"p":"a","id":"a300b","w":1.675,"e":0.6},{"p":"a","id":"a300b","w":1.675,"e":0.5},{"p":"a","id":"a300b","w":1.674,"e":0.4},{"p":"a","id":"a300b","w":1.67,"e":0.3},{"p":"a","id":"a300b","w":1.662,"e":0.19},{"p":"a","id":"a300b","w":1.652,"e":0.11},{"p":"a","id":"a300b","w":1.641,"e":0.05},
{"p":"a","id":"a300ra","w":1.93,"e":0.95},{"p":"a","id":"a300ra","w":1.93,"e":0.6},{"p":"a","id":"a300ra","w":1.931,"e":0.36},{"p":"a","id":"a300ra","w":1.932,"e":0.335},
{"p":"a","id":"a300rb","w":1.937,"e":0.17},{"p":"a","id":"a300rb","w":1.939,"e":0.11},{"p":"a","id":"a300rb","w":1.941,"e":0.05},
{"p":"a","id":"a300t","w":1.969,"e":0.95},{"p":"a","id":"a300t","w":1.97,"e":0.88},{"p":"a","id":"a300t","w":1.972,"e":0.84},
{"p":"b","id":"b600a","w":1.112,"e":0.95},{"p":"b","id":"b600a","w":1.112,"e":0.83},
{"p":"b","id":"b600b","w":1.112,"e":0.669},{"p":"b","id":"b600b","w":1.111,"e":0.6},{"p":"b","id":"b600b","w":1.108,"e":0.54},{"p":"b","id":"b600b","w":1.098,"e":0.47},{"p":"b","id":"b600b","w":1.087,"e":0.412},{"p":"b","id":"b600b","w":1.072,"e":0.34},{"p":"b","id":"b600b","w":1.057,"e":0.269},{"p":"b","id":"b600b","w":1.042,"e":0.21},{"p":"b","id":"b600b","w":1.027,"e":0.158},{"p":"b","id":"b600b","w":1.012,"e":0.125},{"p":"b","id":"b600b","w":1.0,"e":0.1},
{"p":"b","id":"b400a","w":1.378,"e":0.95},{"p":"b","id":"b400a","w":1.378,"e":0.85},{"p":"b","id":"b400a","w":1.376,"e":0.82},
{"p":"b","id":"b400b","w":1.357,"e":0.666},{"p":"b","id":"b400b","w":1.346,"e":0.6},{"p":"b","id":"b400b","w":1.336,"e":0.53},{"p":"b","id":"b400b","w":1.329,"e":0.46},{"p":"b","id":"b400b","w":1.321,"e":0.39},{"p":"b","id":"b400b","w":1.31,"e":0.32},{"p":"b","id":"b400b","w":1.296,"e":0.247},{"p":"b","id":"b400b","w":1.282,"e":0.18},{"p":"b","id":"b400b","w":1.271,"e":0.136},{"p":"b","id":"b400b","w":1.25,"e":0.11},{"p":"b","id":"b400b","w":1.226,"e":0.092},{"p":"b","id":"b400b","w":1.2,"e":0.07},{"p":"b","id":"b400b","w":1.181,"e":0.05},
{"p":"b","id":"b200a","w":1.697,"e":0.95},{"p":"b","id":"b200a","w":1.696,"e":0.82},
{"p":"b","id":"b200b","w":1.693,"e":0.665},{"p":"b","id":"b200b","w":1.685,"e":0.6},{"p":"b","id":"b200b","w":1.675,"e":0.54},{"p":"b","id":"b200b","w":1.66,"e":0.47},{"p":"b","id":"b200b","w":1.64,"e":0.41},{"p":"b","id":"b200b","w":1.628,"e":0.35},{"p":"b","id":"b200b","w":1.618,"e":0.29},{"p":"b","id":"b200b","w":1.605,"e":0.22},{"p":"b","id":"b200b","w":1.594,"e":0.16},{"p":"b","id":"b200b","w":1.58,"e":0.11},{"p":"b","id":"b200b","w":1.56,"e":0.08},{"p":"b","id":"b200b","w":1.535,"e":0.05},
{"p":"b","id":"b200ra","w":1.905,"e":0.95},{"p":"b","id":"b200ra","w":1.908,"e":0.8},{"p":"b","id":"b200ra","w":1.912,"e":0.755},{"p":"b","id":"b200ra","w":1.926,"e":0.71},{"p":"b","id":"b200ra","w":1.93,"e":0.6},{"p":"b","id":"b200ra","w":1.933,"e":0.4},{"p":"b","id":"b200ra","w":1.934,"e":0.33},
{"p":"b","id":"b200rb","w":1.946,"e":0.16},{"p":"b","id":"b200rb","w":1.95,"e":0.11},{"p":"b","id":"b200rb","w":1.954,"e":0.05}
],
"labs": [
{"p":"a","id":"a1100","w":1.042,"e":0.605,"txt":"1100"},
{"p":"a","id":"a900","w":1.114,"e":0.81,"txt":"900"},
{"p":"a","id":"a700","w":1.272,"e":0.799,"txt":"700"},
{"p":"a","id":"a500","w":1.453,"e":0.782,"txt":"500"},
{"p":"a","id":"a300","w":1.662,"e":0.76,"txt":"300"},
{"p":"a","id":"a300r","w":1.934,"e":0.252,"txt":"300"},
{"p":"b","id":"b600","w":1.113,"e":0.749,"txt":"600"},
{"p":"b","id":"b400","w":1.367,"e":0.743,"txt":"400"},
{"p":"b","id":"b200","w":1.695,"e":0.743,"txt":"200"},
{"p":"b","id":"b200r","w":1.94,"e":0.245,"txt":"200"}
],
"opt": [{"w":1.825,"e":0.05},{"w":1.825,"e":0.95}],
"cpu": [
{"m":"Direct solution","e":0.05,"t":0.005},{"m":"Direct solution","e":0.1,"t":0.005},{"m":"Direct solution","e":0.15,"t":0.005},{"m":"Direct solution","e":0.2,"t":0.005},{"m":"Direct solution","e":0.25,"t":0.005},{"m":"Direct solution","e":0.3,"t":0.005},{"m":"Direct solution","e":0.35,"t":0.005},{"m":"Direct solution","e":0.4,"t":0.005},{"m":"Direct solution","e":0.45,"t":0.005},{"m":"Direct solution","e":0.5,"t":0.005},{"m":"Direct solution","e":0.55,"t":0.005},{"m":"Direct solution","e":0.6,"t":0.005},{"m":"Direct solution","e":0.65,"t":0.005},{"m":"Direct solution","e":0.7,"t":0.005},{"m":"Direct solution","e":0.75,"t":0.005},{"m":"Direct solution","e":0.8,"t":0.005},{"m":"Direct solution","e":0.85,"t":0.005},{"m":"Direct solution","e":0.9,"t":0.005},{"m":"Direct solution","e":0.95,"t":0.0075},
{"m":"SOR method","e":0.05,"t":0.1588},{"m":"SOR method","e":0.1,"t":0.1589},{"m":"SOR method","e":0.15,"t":0.1569},{"m":"SOR method","e":0.2,"t":0.1569},{"m":"SOR method","e":0.25,"t":0.1555},{"m":"SOR method","e":0.3,"t":0.1549},{"m":"SOR method","e":0.35,"t":0.1532},{"m":"SOR method","e":0.4,"t":0.1516},{"m":"SOR method","e":0.45,"t":0.1495},{"m":"SOR method","e":0.5,"t":0.1484},{"m":"SOR method","e":0.55,"t":0.1452},{"m":"SOR method","e":0.6,"t":0.1434},{"m":"SOR method","e":0.65,"t":0.1423},{"m":"SOR method","e":0.7,"t":0.1412},{"m":"SOR method","e":0.75,"t":0.1421},{"m":"SOR method","e":0.8,"t":0.1412},{"m":"SOR method","e":0.85,"t":0.1401},{"m":"SOR method","e":0.9,"t":0.1390},{"m":"SOR method","e":0.95,"t":0.1390},
{"m":"SOR (dimensionless)","e":0.05,"t":0.1099},{"m":"SOR (dimensionless)","e":0.1,"t":0.1154},{"m":"SOR (dimensionless)","e":0.15,"t":0.1176},{"m":"SOR (dimensionless)","e":0.2,"t":0.119},{"m":"SOR (dimensionless)","e":0.25,"t":0.1206},{"m":"SOR (dimensionless)","e":0.3,"t":0.1212},{"m":"SOR (dimensionless)","e":0.35,"t":0.1217},{"m":"SOR (dimensionless)","e":0.4,"t":0.1228},{"m":"SOR (dimensionless)","e":0.45,"t":0.1231},{"m":"SOR (dimensionless)","e":0.5,"t":0.1225},{"m":"SOR (dimensionless)","e":0.55,"t":0.122},{"m":"SOR (dimensionless)","e":0.6,"t":0.1231},{"m":"SOR (dimensionless)","e":0.65,"t":0.1212},{"m":"SOR (dimensionless)","e":0.7,"t":0.1212},{"m":"SOR (dimensionless)","e":0.75,"t":0.1234},{"m":"SOR (dimensionless)","e":0.8,"t":0.1255},{"m":"SOR (dimensionless)","e":0.85,"t":0.1266},{"m":"SOR (dimensionless)","e":0.9,"t":0.1275},{"m":"SOR (dimensionless)","e":0.95,"t":0.1319}
],
"pres": [
{"m":"Direct solution","e":0.05,"r":1},{"m":"Direct solution","e":0.1,"r":1},{"m":"Direct solution","e":0.15,"r":1},{"m":"Direct solution","e":0.2,"r":1},{"m":"Direct solution","e":0.25,"r":1},{"m":"Direct solution","e":0.3,"r":1},{"m":"Direct solution","e":0.35,"r":1},{"m":"Direct solution","e":0.4,"r":1},{"m":"Direct solution","e":0.45,"r":1},{"m":"Direct solution","e":0.5,"r":1},{"m":"Direct solution","e":0.55,"r":1},{"m":"Direct solution","e":0.6,"r":1},{"m":"Direct solution","e":0.65,"r":1},{"m":"Direct solution","e":0.7,"r":1},{"m":"Direct solution","e":0.75,"r":1},{"m":"Direct solution","e":0.8,"r":1},{"m":"Direct solution","e":0.85,"r":1},{"m":"Direct solution","e":0.9,"r":1},{"m":"Direct solution","e":0.95,"r":1},
{"m":"SOR method","e":0.05,"r":1.0000002},{"m":"SOR method","e":0.1,"r":1.0000002},{"m":"SOR method","e":0.15,"r":1.0000002},{"m":"SOR method","e":0.2,"r":1.0000002},{"m":"SOR method","e":0.25,"r":1.0000002},{"m":"SOR method","e":0.3,"r":1.0000002},{"m":"SOR method","e":0.35,"r":1.0000002},{"m":"SOR method","e":0.4,"r":1.0000002},{"m":"SOR method","e":0.45,"r":1.0000002},{"m":"SOR method","e":0.5,"r":1.0000002},{"m":"SOR method","e":0.55,"r":1.0000002},{"m":"SOR method","e":0.6,"r":1.0000002},{"m":"SOR method","e":0.65,"r":1.0000002},{"m":"SOR method","e":0.7,"r":1.0000002},{"m":"SOR method","e":0.75,"r":1.0000002},{"m":"SOR method","e":0.8,"r":1.0000002},{"m":"SOR method","e":0.85,"r":1.0000002},{"m":"SOR method","e":0.9,"r":1.0000002},{"m":"SOR method","e":0.95,"r":1.0000002},
{"m":"SOR (dimensionless)","e":0.05,"r":0.9999901},{"m":"SOR (dimensionless)","e":0.1,"r":0.9999613},{"m":"SOR (dimensionless)","e":0.15,"r":0.9999705},{"m":"SOR (dimensionless)","e":0.2,"r":0.9999761},{"m":"SOR (dimensionless)","e":0.25,"r":0.9999812},{"m":"SOR (dimensionless)","e":0.3,"r":0.9999853},{"m":"SOR (dimensionless)","e":0.35,"r":0.9999892},{"m":"SOR (dimensionless)","e":0.4,"r":0.9999925},{"m":"SOR (dimensionless)","e":0.45,"r":0.9999953},{"m":"SOR (dimensionless)","e":0.5,"r":0.9999979},{"m":"SOR (dimensionless)","e":0.55,"r":1.0000003},{"m":"SOR (dimensionless)","e":0.6,"r":1.0000026},{"m":"SOR (dimensionless)","e":0.65,"r":1.0000047},{"m":"SOR (dimensionless)","e":0.7,"r":1.0000063},{"m":"SOR (dimensionless)","e":0.75,"r":1.0000049},{"m":"SOR (dimensionless)","e":0.8,"r":1.0000017},{"m":"SOR (dimensionless)","e":0.85,"r":1.0000008},{"m":"SOR (dimensionless)","e":0.9,"r":1.0000009},{"m":"SOR (dimensionless)","e":0.95,"r":1.0000001}
]
},
"concat": [
{
"width": 374, "height": 271,
"title": {"text": "(a)", "dx": -98, "dy": 32},
"encoding": {
"x": {"field": "w", "type": "quantitative", "scale": {"domain": [1, 1.975], "nice": false, "zero": false}, "axis": null},
"y": {"field": "e", "type": "quantitative", "scale": {"domain": [0.05, 0.95], "nice": false, "zero": false}, "axis": null}
},
"layer": [
{"data": {"name": "heat"}, "transform": [{"filter": "datum.p == 'a'"}],
"mark": {"type": "rect", "width": 12.5, "height": 31, "clip": true},
"encoding": {
"x": {"field": "w", "type": "quantitative", "scale": {"domain": [1, 1.975], "nice": false, "zero": false}, "axis": {"values": [1, 1.2, 1.4, 1.6, 1.8], "format": "~g", "title": "Relaxation parameter w (-)", "zindex": 1}},
"y": {"field": "e", "type": "quantitative", "scale": {"domain": [0.05, 0.95], "nice": false, "zero": false}, "axis": {"values": [0.2, 0.4, 0.6, 0.8], "format": "~g", "title": "Relative eccentricity (-)", "zindex": 1}},
"color": {"field": "t", "type": "quantitative",
"scale": {"domain": [0, 0.827], "nice": false, "zero": false, "interpolate": "rgb", "range": ["#3E26A8", "#4753F5", "#307DF8", "#1F98E2", "#10B0CC", "#2CBCA8", "#6CC673", "#B9C03A", "#FBB53E", "#F6D42A", "#F9FB15"]},
"legend": {"orient": "none", "legendX": 391, "legendY": -32, "direction": "vertical", "gradientLength": 271, "gradientThickness": 36, "gradientStrokeColor": "#262626", "gradientStrokeWidth": 1, "values": [0, 0.2, 0.4, 0.6, 0.8], "format": "~g", "labelFont": "Liberation Serif", "labelFontSize": 26, "labelColor": "#262626", "labelOffset": 6, "labelOverlap": false, "labelBaseline": "middle", "title": "t (s)", "titleFont": "Liberation Serif", "titleFontSize": 26, "titleFontWeight": "normal", "titleColor": "#000000", "titlePadding": 6, "padding": 0}}}},
{"data": {"name": "cont"}, "transform": [{"filter": "datum.p == 'a'"}],
"mark": {"type": "line", "color": "black", "strokeWidth": 2.5, "clip": true},
"encoding": {
"x": {"field": "w", "type": "quantitative", "scale": {"domain": [1, 1.975], "nice": false, "zero": false}, "axis": {"orient": "top", "values": [1, 1.2, 1.4, 1.6, 1.8], "labels": false, "title": null, "zindex": 1}},
"y": {"field": "e", "type": "quantitative", "scale": {"domain": [0.05, 0.95], "nice": false, "zero": false}, "axis": {"orient": "right", "values": [0.2, 0.4, 0.6, 0.8], "labels": false, "title": null, "zindex": 1}},
"detail": {"field": "id", "type": "nominal"}, "order": {"value": null}}},
{"data": {"name": "opt"},
"mark": {"type": "line", "color": "black", "strokeWidth": 2.5, "strokeDash": [20, 12]},
"encoding": {"order": {"value": null}}},
{"data": {"name": "labs"}, "transform": [{"filter": "datum.id == 'a1100'"}], "mark": {"type": "text", "angle": 80, "font": "Liberation Sans", "fontSize": 24, "color": "black", "align": "center", "baseline": "middle"}, "encoding": {"text": {"field": "txt"}}},
{"data": {"name": "labs"}, "transform": [{"filter": "datum.id == 'a900'"}], "mark": {"type": "text", "angle": 60, "font": "Liberation Sans", "fontSize": 24, "color": "black", "align": "center", "baseline": "middle"}, "encoding": {"text": {"field": "txt"}}},
{"data": {"name": "labs"}, "transform": [{"filter": "datum.id == 'a700'"}], "mark": {"type": "text", "angle": 66, "font": "Liberation Sans", "fontSize": 24, "color": "black", "align": "center", "baseline": "middle"}, "encoding": {"text": {"field": "txt"}}},
{"data": {"name": "labs"}, "transform": [{"filter": "datum.id == 'a500'"}], "mark": {"type": "text", "angle": 74, "font": "Liberation Sans", "fontSize": 24, "color": "black", "align": "center", "baseline": "middle"}, "encoding": {"text": {"field": "txt"}}},
{"data": {"name": "labs"}, "transform": [{"filter": "datum.id == 'a300'"}], "mark": {"type": "text", "angle": 81, "font": "Liberation Sans", "fontSize": 24, "color": "black", "align": "center", "baseline": "middle"}, "encoding": {"text": {"field": "txt"}}},
{"data": {"name": "labs"}, "transform": [{"filter": "datum.id == 'a300r'"}], "mark": {"type": "text", "angle": 90, "font": "Liberation Sans", "fontSize": 24, "color": "black", "align": "center", "baseline": "middle"}, "encoding": {"text": {"field": "txt"}}}
],
"resolve": {"axis": {"x": "independent", "y": "independent"}}
},
{
"width": 377, "height": 271,
"title": {"text": "(b)", "dx": -97, "dy": 32},
"encoding": {
"x": {"field": "w", "type": "quantitative", "scale": {"domain": [1, 1.975], "nice": false, "zero": false}, "axis": null},
"y": {"field": "e", "type": "quantitative", "scale": {"domain": [0.05, 0.95], "nice": false, "zero": false}, "axis": null}
},
"layer": [
{"data": {"name": "heat"}, "transform": [{"filter": "datum.p == 'b'"}],
"mark": {"type": "rect", "width": 12.5, "height": 31, "clip": true},
"encoding": {
"x": {"field": "w", "type": "quantitative", "scale": {"domain": [1, 1.975], "nice": false, "zero": false}, "axis": {"values": [1, 1.2, 1.4, 1.6, 1.8], "format": "~g", "title": "Relaxation parameter w (-)", "zindex": 1}},
"y": {"field": "e", "type": "quantitative", "scale": {"domain": [0.05, 0.95], "nice": false, "zero": false}, "axis": {"values": [0.2, 0.4, 0.6, 0.8], "format": "~g", "title": "Relative eccentricity (-)", "zindex": 1}},
"color": {"field": "t", "type": "quantitative",
"scale": {"domain": [0, 0.551], "nice": false, "zero": false, "interpolate": "rgb", "range": ["#3E26A8", "#4753F5", "#307DF8", "#1F98E2", "#10B0CC", "#2CBCA8", "#6CC673", "#B9C03A", "#FBB53E", "#F6D42A", "#F9FB15"]},
"legend": {"orient": "none", "legendX": 392, "legendY": -32, "direction": "vertical", "gradientLength": 271, "gradientThickness": 36, "gradientStrokeColor": "#262626", "gradientStrokeWidth": 1, "values": [0, 0.1, 0.2, 0.3, 0.4, 0.5], "format": "~g", "labelFont": "Liberation Serif", "labelFontSize": 26, "labelColor": "#262626", "labelOffset": 6, "labelOverlap": false, "labelBaseline": "middle", "title": "t (s)", "titleFont": "Liberation Serif", "titleFontSize": 26, "titleFontWeight": "normal", "titleColor": "#000000", "titlePadding": 6, "padding": 0}}}},
{"data": {"name": "cont"}, "transform": [{"filter": "datum.p == 'b'"}],
"mark": {"type": "line", "color": "black", "strokeWidth": 2.5, "clip": true},
"encoding": {
"x": {"field": "w", "type": "quantitative", "scale": {"domain": [1, 1.975], "nice": false, "zero": false}, "axis": {"orient": "top", "values": [1, 1.2, 1.4, 1.6, 1.8], "labels": false, "title": null, "zindex": 1}},
"y": {"field": "e", "type": "quantitative", "scale": {"domain": [0.05, 0.95], "nice": false, "zero": false}, "axis": {"orient": "right", "values": [0.2, 0.4, 0.6, 0.8], "labels": false, "title": null, "zindex": 1}},
"detail": {"field": "id", "type": "nominal"}, "order": {"value": null}}},
{"data": {"name": "opt"},
"mark": {"type": "line", "color": "black", "strokeWidth": 2.5, "strokeDash": [20, 12]},
"encoding": {"order": {"value": null}}},
{"data": {"name": "labs"}, "transform": [{"filter": "datum.id == 'b600' || datum.id == 'b200'"}], "mark": {"type": "text", "angle": -90, "font": "Liberation Sans", "fontSize": 24, "color": "black", "align": "center", "baseline": "middle"}, "encoding": {"text": {"field": "txt"}}},
{"data": {"name": "labs"}, "transform": [{"filter": "datum.id == 'b400'"}], "mark": {"type": "text", "angle": -81, "font": "Liberation Sans", "fontSize": 24, "color": "black", "align": "center", "baseline": "middle"}, "encoding": {"text": {"field": "txt"}}},
{"data": {"name": "labs"}, "transform": [{"filter": "datum.id == 'b200r'"}], "mark": {"type": "text", "angle": 90, "font": "Liberation Sans", "fontSize": 24, "color": "black", "align": "center", "baseline": "middle"}, "encoding": {"text": {"field": "txt"}}}
],
"resolve": {"axis": {"x": "independent", "y": "independent"}}
},
{
"width": 455, "height": 218,
"title": {"text": "(c)", "dx": -98},
"data": {"name": "cpu"},
"layer": [
{"mark": {"type": "line", "strokeWidth": 2.5},
"encoding": {
"x": {"field": "e", "type": "quantitative", "scale": {"domain": [0, 1], "nice": false}, "axis": {"values": [0, 0.2, 0.4, 0.6, 0.8, 1], "format": "~g", "title": "Relative eccentricity (-)"}},
"y": {"field": "t", "type": "quantitative", "scale": {"domain": [0, 0.18], "nice": false}, "axis": {"values": [0, 0.05, 0.1, 0.15], "format": "~g", "title": "CPU time (s)"}},
"color": {"field": "m", "type": "nominal", "sort": ["Direct solution", "SOR method", "SOR (dimensionless)"],
"scale": {"domain": ["Direct solution", "SOR method", "SOR (dimensionless)"], "range": ["#7E2F8E", "#EDB120", "#0072BD"]},
"legend": {"orient": "none", "legendX": 122, "legendY": 282, "direction": "horizontal", "title": null, "symbolType": "stroke", "symbolSize": 6241, "symbolStrokeWidth": 3, "labelFont": "Liberation Serif", "labelFontSize": 26, "labelColor": "#000000", "labelOffset": 7, "columnPadding": 12, "padding": 0, "labelLimit": 500}}
}},
{"mark": {"type": "line", "strokeOpacity": 0},
"encoding": {
"x": {"field": "e", "type": "quantitative", "scale": {"domain": [0, 1], "nice": false}, "axis": {"orient": "top", "values": [0, 0.2, 0.4, 0.6, 0.8, 1], "labels": false, "title": null}},
"y": {"field": "t", "type": "quantitative", "scale": {"domain": [0, 0.18], "nice": false}, "axis": {"orient": "right", "values": [0, 0.05, 0.1, 0.15], "labels": false, "title": null}},
"detail": {"field": "m", "type": "nominal"}
}}
],
"resolve": {"axis": {"x": "independent", "y": "independent"}}
},
{
"width": 455, "height": 218,
"title": {"text": "(d)", "dx": -97},
"data": {"name": "pres"},
"layer": [
{"mark": {"type": "line", "strokeWidth": 2.5},
"encoding": {
"x": {"field": "e", "type": "quantitative", "scale": {"domain": [0, 1], "nice": false}, "axis": {"values": [0, 0.2, 0.4, 0.6, 0.8, 1], "format": "~g", "title": "Relative eccentricity (-)"}},
"y": {"field": "r", "type": "quantitative", "scale": {"domain": [0.99996, 1.0000063], "nice": false, "zero": false}, "axis": {"values": [0.99996, 0.99998, 1], "format": ".5~f", "title": "Rel. max. pressure (-)"}},
"color": {"field": "m", "type": "nominal", "sort": ["Direct solution", "SOR method", "SOR (dimensionless)"],
"scale": {"domain": ["Direct solution", "SOR method", "SOR (dimensionless)"], "range": ["#7E2F8E", "#EDB120", "#0072BD"]},
"legend": null}
}},
{"mark": {"type": "line", "strokeOpacity": 0},
"encoding": {
"x": {"field": "e", "type": "quantitative", "scale": {"domain": [0, 1], "nice": false}, "axis": {"orient": "top", "values": [0, 0.2, 0.4, 0.6, 0.8, 1], "labels": false, "title": null}},
"y": {"field": "r", "type": "quantitative", "scale": {"domain": [0.99996, 1.0000063], "nice": false, "zero": false}, "axis": {"orient": "right", "values": [0.99996, 0.99998, 1], "labels": false, "title": null}},
"detail": {"field": "m", "type": "nominal"}
}}
],
"resolve": {"axis": {"x": "independent", "y": "independent"}}
}
],
"columns": 2,
"spacing": {"row": 109, "column": 161},
"bounds": "flush",
"resolve": {"scale": {"color": "independent"}, "legend": {"color": "independent"}},
"config": {
"view": {"stroke": "#262626", "strokeWidth": 1},
"title": {"font": "Liberation Serif", "fontSize": 26, "fontWeight": "normal", "color": "#000000", "anchor": "start", "frame": "group", "offset": 4},
"axis": {"labelFont": "Liberation Serif", "labelFontSize": 26, "labelColor": "#262626", "titleFont": "Liberation Serif", "titleFontSize": 27, "titleFontWeight": "normal", "titleColor": "#262626", "domainColor": "#262626", "tickColor": "#262626", "tickSize": -6, "labelPadding": 19, "titlePadding": 8, "grid": false, "labelFlush": false, "labelOverlap": false, "labelBound": false},
"axisX": {"titlePadding": 11},
"legend": {"symbolStrokeWidth": 3}
}
}
